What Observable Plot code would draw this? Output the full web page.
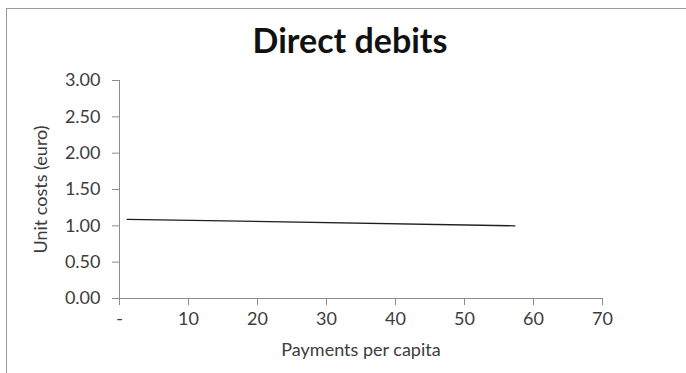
<!DOCTYPE html>
<html>
<head>
<meta charset="utf-8">
<script src="https://cdn.jsdelivr.net/npm/d3@7"></script>
<script src="https://cdn.jsdelivr.net/npm/@observablehq/plot@0.6"></script>
<style>
  body { margin: 0; background: #fff; font-family: Lato, "Open Sans", sans-serif; }
  #chart { position: relative; width: 686px; height: 373px; overflow: hidden; background: #fff; }
  #frame { position: absolute; left: 6px; top: 8px; right: -2px; bottom: -2px;
           border-left: 1px solid #9a9a9a; border-top: 1px solid #9a9a9a; }
  #title { position: absolute; left: 0; top: 20px; width: 700px; text-align: center;
           font-weight: bold; font-size: 34px; color: #111; line-height: 40px; }
  #plot { position: absolute; left: 0; top: 60px; }
</style>
</head>
<body>
<div id="chart">
  <div id="frame"></div>
  <div id="title">Direct debits</div>
  <div id="plot"></div>
</div>
<script>
// Unit cost of a direct debit against the number of payments per capita
const paymentsPerCapita = [1.1, 57.3];
const unitCostsEuro = [1.09, 1.00];

// Axis ticks
const xTicks = [0, 10, 20, 30, 40, 50, 60, 70];
const yTicks = [0, 0.5, 1, 1.5, 2, 2.5, 3];

const data = paymentsPerCapita.map((x, i) => ({x, y: unitCostsEuro[i]}));

const axisColor = "#8c8c8c";
const textColor = "#3c3c3c";

const chart = Plot.plot({
  width: 686,
  height: 313,
  marginLeft: 119,
  marginRight: 84,
  marginTop: 20,
  marginBottom: 75,
  style: { fontFamily: "Lato, 'Open Sans', sans-serif", fontSize: "18px", color: textColor, background: "transparent", overflow: "visible" },
  x: { domain: [0, 70] },
  y: { domain: [0, 3] },
  marks: [
    Plot.axisY({
      ticks: yTicks, tickSize: 7, tickPadding: 12, stroke: axisColor,
      tickFormat: d => d.toFixed(2),
      label: "Unit costs (euro)", labelAnchor: "center", labelArrow: "none", labelOffset: 85
    }),
    Plot.axisX({
      ticks: xTicks, tickSize: 7, tickPadding: 7, stroke: axisColor,
      tickFormat: d => d === 0 ? "-" : String(d),
      label: "Payments per capita", labelAnchor: "center", labelArrow: "none", labelOffset: 57
    }),
    Plot.ruleX([0], { stroke: axisColor }),
    Plot.ruleY([0], { stroke: axisColor }),
    Plot.line(data, { x: "x", y: "y", stroke: "#1e1e1e", strokeWidth: 1.3 })
  ]
});

document.getElementById("plot").appendChild(chart);
</script>
</body>
</html>
